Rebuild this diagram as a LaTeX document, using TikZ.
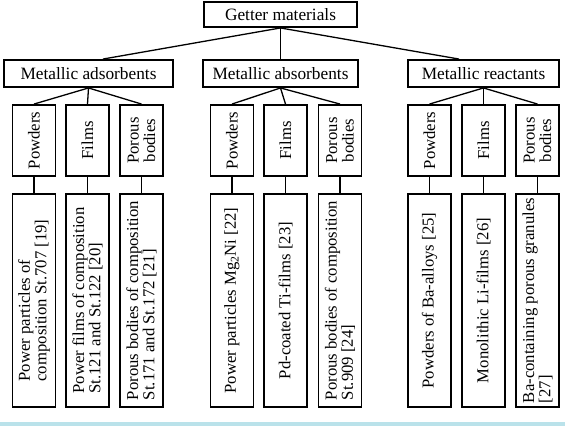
\documentclass[tikz,border=0pt]{standalone}
\usepackage{fontspec}
\setmainfont{Liberation Serif}
\definecolor{bandcyan}{RGB}{186,226,234}
\begin{document}
\begin{tikzpicture}[x=1pt,y=-1pt,
  box/.style={draw=black,line width=1.9pt,rectangle,inner sep=1pt},
  hfont/.style={font=\fontsize{17.3}{17}\selectfont},
  vfont/.style={font=\fontsize{16.7}{16.3}\selectfont},
  topbox/.style={box,hfont,minimum width=153pt,minimum height=25pt},
  midbox/.style={box,hfont,minimum height=27pt},
  upbox/.style={box,vfont,rotate=90,minimum width=71pt,minimum height=43pt,align=center},
  lowbox/.style={box,vfont,rotate=90,minimum width=213pt,minimum height=43pt,align=left},
  link/.style={draw=black,line width=1.3pt}]
\useasboundingbox (0,0) rectangle (565,426);
\fill[bandcyan] (0,422) rectangle (565,426);

\node[topbox] (g) at (280.5,14.5) {Getter materials};

\node[midbox,minimum width=169pt] (ad) at (88.5,73.5) {Metallic adsorbents};
\node[midbox,minimum width=155pt] (ab) at (280.5,73.5) {Metallic absorbents};
\node[midbox,minimum width=151pt] (re) at (483.5,73.5) {Metallic reactants};

% upper category boxes
\node[upbox] (adP) at (34,140.5) {Powders};
\node[upbox] (adF) at (87.5,140.5) {Films};
\node[upbox] (adB) at (141.5,140.5) {Porous\\bodies};
\node[upbox] (abP) at (232,140.5) {Powders};
\node[upbox] (abF) at (285.5,140.5) {Films};
\node[upbox] (abB) at (340,140.5) {Porous\\bodies};
\node[upbox] (reP) at (429.5,140.5) {Powders};
\node[upbox] (reF) at (483.5,140.5) {Films};
\node[upbox] (reB) at (537.5,140.5) {Porous\\bodies};

% lower detail boxes
\node[lowbox] (adPd) at (34,300.5) {Power particles of\\composition St.707 [19]};
\node[lowbox] (adFd) at (87.5,300.5) {Power films of composition\\St.121 and St.122 [20]};
\node[lowbox] (adBd) at (141.5,300.5) {Porous bodies of composition\\St.171 and St.172 [21]};
\node[lowbox] (abPd) at (232,300.5) {Power particles Mg\textsubscript{2}Ni [22]};
\node[lowbox] (abFd) at (285.5,300.5) {Pd-coated Ti-films [23]};
\node[lowbox] (abBd) at (340,300.5) {Porous bodies of composition\\St.909 [24]};
\node[lowbox] (rePd) at (429.5,300.5) {Powders of Ba-alloys [25]};
\node[lowbox] (reFd) at (483.5,300.5) {Monolithic Li-films [26]};
\node[lowbox] (reBd) at (537.5,300.5) {Ba-containing porous granules\\{}[27]};

% connectors level 1
\draw[link] (g.south) -- ([xshift=14.5pt]ad.north);
\draw[link] (g.south) -- (ab.north);
\draw[link] (g.south) -- ([xshift=-24.5pt]re.north);

% connectors level 2
\foreach \p/\c in {ad/adP,ad/adF,ad/adB,ab/abP,ab/abF,ab/abB,re/reP,re/reF,re/reB}
  \draw[link] (\p.south) -- (\c.east);

% connectors level 3
\foreach \u/\d in {adP/adPd,adF/adFd,adB/adBd,abP/abPd,abF/abFd,abB/abBd,reP/rePd,reF/reFd,reB/reBd}
  \draw[link] (\u.west) -- (\d.east);
\end{tikzpicture}
\end{document}
